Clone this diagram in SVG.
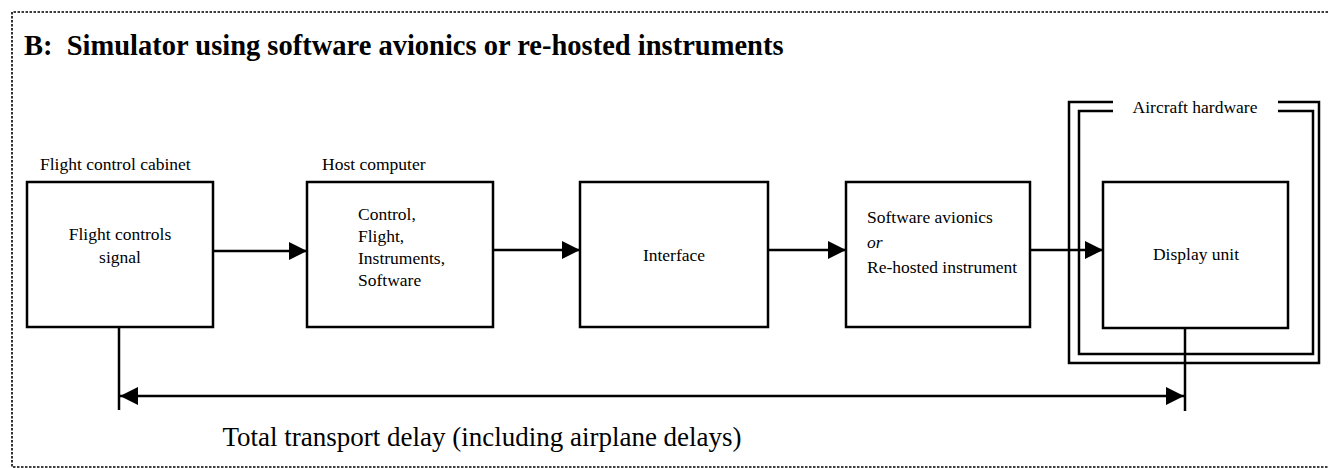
<svg xmlns="http://www.w3.org/2000/svg" width="1329" height="468" viewBox="0 0 1329 468">
  <style>
    .box { fill: #fff; stroke: #000; stroke-width: 2.5; }
    .frame { fill: none; stroke: #000; stroke-width: 2.5; }
    .wire { fill: none; stroke: #000; stroke-width: 2.5; }
    .t { font-family: "Liberation Serif", "Times New Roman", serif; font-size: 17.5px; fill: #000; }
    .mid { text-anchor: middle; }
    .title { font-family: "Liberation Serif", "Times New Roman", serif; font-size: 28.5px; font-weight: bold; fill: #000; }
    .big { font-family: "Liberation Serif", "Times New Roman", serif; font-size: 27px; fill: #000; }
    .border { fill: none; stroke: #000; stroke-width: 1.6; stroke-dasharray: 2.5 1.5; }
  </style>
  <defs>
    <marker id="ah" viewBox="0 0 18 18" refX="18" refY="9" markerWidth="18" markerHeight="18" markerUnits="userSpaceOnUse" orient="auto-start-reverse">
      <path d="M0,0 L18,9 L0,18 Z" fill="#000"/>
    </marker>
  </defs>

  <rect width="1329" height="468" fill="#fff"/>

  <!-- dotted outline of the panel -->
  <path class="border" d="M1332,12 H12 V467 H1332"/>

  <text class="title" x="24" y="55">B:&#160; Simulator using software avionics or re-hosted instruments</text>

  <!-- aircraft hardware enclosure (double line, gap for label) -->
  <g id="aircraft-hardware">
    <path class="frame" d="M1113,102 H1069 V363 H1319 V102 H1278"/>
    <path class="frame" d="M1113,111 H1079 V354 H1313 V111 H1278"/>
    <text class="t mid" x="1195" y="113">Aircraft hardware</text>
  </g>

  <g id="flight-controls">
    <text class="t" x="40" y="170">Flight control cabinet</text>
    <rect class="box" x="27" y="182" width="186" height="145"/>
    <text class="t mid" x="120" y="240">Flight controls</text>
    <text class="t mid" x="120" y="263">signal</text>
  </g>

  <g id="host-computer">
    <text class="t" x="322" y="170">Host computer</text>
    <rect class="box" x="307" y="182" width="186" height="145"/>
    <text class="t" x="358" y="220">Control,</text>
    <text class="t" x="358" y="242">Flight,</text>
    <text class="t" x="358" y="264">Instruments,</text>
    <text class="t" x="358" y="286">Software</text>
  </g>

  <g id="interface">
    <rect class="box" x="580" y="182" width="188" height="145"/>
    <text class="t mid" x="674" y="261">Interface</text>
  </g>

  <g id="software-avionics">
    <rect class="box" x="846" y="182" width="184" height="145"/>
    <text class="t" x="867" y="223">Software avionics</text>
    <text class="t" x="867" y="248" font-style="italic">or</text>
    <text class="t" x="867" y="273">Re-hosted instrument</text>
  </g>

  <g id="display-unit">
    <rect class="box" x="1103" y="182" width="185" height="146"/>
    <text class="t mid" x="1196" y="260">Display unit</text>
  </g>

  <g id="connectors">
    <line class="wire" x1="213" y1="251" x2="307" y2="251" marker-end="url(#ah)"/>
    <line class="wire" x1="493" y1="250" x2="580" y2="250" marker-end="url(#ah)"/>
    <line class="wire" x1="768" y1="250" x2="846" y2="250" marker-end="url(#ah)"/>
    <line class="wire" x1="1030" y1="250" x2="1103" y2="250" marker-end="url(#ah)"/>
    <!-- transport delay span -->
    <line class="wire" x1="119" y1="327" x2="119" y2="410" stroke-width="2"/>
    <line class="wire" x1="1185" y1="328" x2="1185" y2="411" stroke-width="2"/>
    <line class="wire" x1="120" y1="396" x2="1184" y2="396" marker-start="url(#ah)" marker-end="url(#ah)"/>
  </g>

  <text class="big mid" x="482" y="446">Total transport delay (including airplane delays)</text>
</svg>
